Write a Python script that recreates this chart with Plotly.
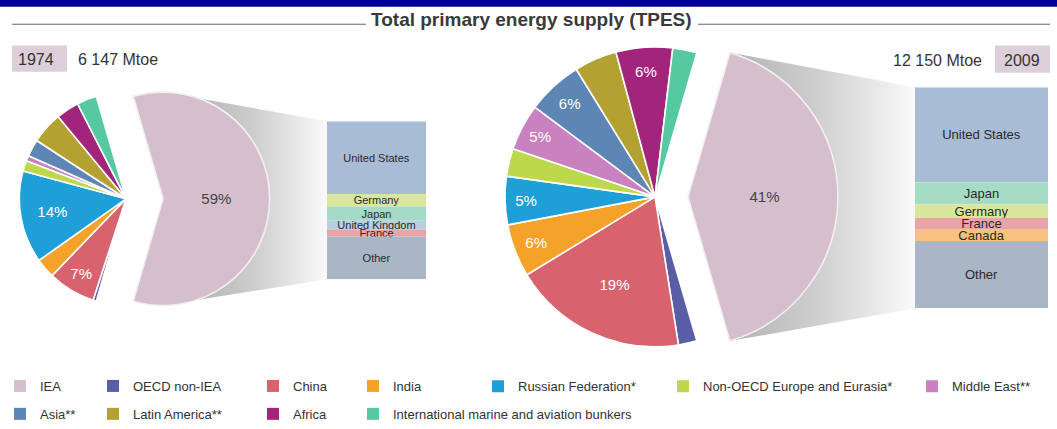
import math
import plotly.graph_objects as go

# ---------------- data ----------------
REGIONS = [
    "IEA", "OECD non-IEA", "China", "India", "Russian Federation*",
    "Non-OECD Europe and Eurasia*", "Middle East**", "Asia**",
    "Latin America**", "Africa", "International marine and aviation bunkers",
]
REGION_COLORS = [
    "#d5bfcc", "#5a5ea6", "#d9626f", "#f5a22b", "#1f9fd8",
    "#bdd84b", "#c981c0", "#5d86b4", "#b3a132", "#a3247b", "#57c9a1",
]

YEARS = ["1974", "2009"]
TOTAL_MTOE = [6147, 12150]

# regional shares of world TPES (%)
SHARES_1974 = [59.0, 0.5, 7.2, 3.0, 14.0, 1.6, 0.8, 2.6, 4.8, 3.5, 3.0]
SHARES_2009 = [41.0, 2.0, 18.8, 5.7, 5.2, 3.0, 5.0, 6.0, 4.6, 6.1, 2.6]

# breakdown of the IEA total (% of IEA TPES)
IEA_1974_NAMES = ["United States", "Germany", "Japan", "United Kingdom", "France", "Other"]
IEA_1974_SHARES = [46.0, 8.0, 9.0, 5.5, 4.5, 27.0]
IEA_1974_COLORS = ["#a9bcd5", "#d9e69b", "#a6dac8", "#b7cfe0", "#e9a4a8", "#a8b6c5"]

IEA_2009_NAMES = ["United States", "Japan", "Germany", "France", "Canada", "Other"]
IEA_2009_SHARES = [43.0, 10.0, 6.0, 5.5, 5.0, 30.5]
IEA_2009_COLORS = ["#a9bcd5", "#a6dcc5", "#d9e69b", "#e9a4a8", "#f6c27e", "#a8b6c5"]

# ---------------- layout constants (pixels) ----------------
W, H = 1057, 429
FONT_NARROW = "Liberation Sans Narrow, Arial Narrow, Liberation Sans, sans-serif"
FONT_REG = "Liberation Sans, Arial, sans-serif"
CLEAR = "rgba(0,0,0,0)"
TEXT = "#333333"

R_1974 = 110  # pie radius of the first year; later year scaled by area
PANELS = [
    dict(shares=SHARES_1974, cx=126, cy=205, pull=37, box=(327, 125, 426, 288),
         names=IEA_1974_NAMES, sub=IEA_1974_SHARES, colors=IEA_1974_COLORS, bar_font=11),
    dict(shares=SHARES_2009, cx=655, cy=203, pull=33, box=(915, 90, 1048, 318),
         names=IEA_2009_NAMES, sub=IEA_2009_SHARES, colors=IEA_2009_COLORS, bar_font=13),
]
LEGEND_COL_X = [0, 93, 253, 353, 478, 663, 912]


def fy(py):
    return 1 - py / H


fig = go.Figure()

for k, p in enumerate(PANELS):
    shares = p["shares"]
    n = len(shares)
    total = sum(shares)
    r = R_1974 * math.sqrt(TOTAL_MTOE[k] / TOTAL_MTOE[0])
    cx, cy, pull = p["cx"], p["cy"], p["pull"]
    tip_x = cx + pull
    bx0, by0, bx1, by1 = p["box"]

    # grey fan joining the IEA slice to its country breakdown
    half = math.radians(min(90.0, 180.0 * shares[0] / total))
    ex = tip_x + r * math.cos(half)
    fig.add_trace(go.Scatter(
        x=[tip_x, ex, bx0, bx0, ex, tip_x],
        y=[cy, cy - r * math.sin(half), by0, by1, cy + r * math.sin(half), cy],
        mode="lines", line=dict(width=0), fill="toself",
        fillgradient=dict(type="horizontal", start=tip_x, stop=bx0,
                          colorscale=[[0, "#a6a6a6"], [0.55, "#cdcdcd"], [1, "#fafafa"]]),
        hoverinfo="skip", showlegend=False, xaxis="x", yaxis="y"))

    rot = 90 - 180.0 * shares[0] / total
    labels = [f"{v:.0f}%" if v >= 5 else "" for v in shares]
    common = dict(labels=REGIONS, values=shares, sort=False, direction="clockwise",
                  rotation=rot, textinfo="text", textposition="inside",
                  insidetextorientation="horizontal", showlegend=False,
                  hoverinfo="label+value")

    # regional slices around the common centre
    fig.add_trace(go.Pie(
        **common,
        text=[""] + labels[1:],
        textfont=dict(family=FONT_NARROW, size=15, color=["#444444"] + ["white"] * (n - 1)),
        marker=dict(colors=[CLEAR] + REGION_COLORS[1:],
                    line=dict(color="white", width=[0] + [1.6] * (n - 1))),
        domain=dict(x=[(cx - r) / W, (cx + r) / W], y=[fy(cy + r), fy(cy - r)])))

    # IEA slice, pulled out towards the breakdown
    fig.add_trace(go.Pie(
        **common,
        text=[labels[0]] + [""] * (n - 1),
        textfont=dict(family=FONT_NARROW, size=15, color=["#444444"] + ["white"] * (n - 1)),
        marker=dict(colors=[REGION_COLORS[0]] + [CLEAR] * (n - 1),
                    line=dict(color="#f4eef2", width=[1.6] + [0] * (n - 1))),
        domain=dict(x=[(tip_x - r) / W, (tip_x + r) / W], y=[fy(cy + r), fy(cy - r)])))

    # stacked country breakdown of the IEA total
    sub = p["sub"]
    bases = [sum(sub[:i]) for i in range(len(sub))]
    ax = k + 2
    fig.add_trace(go.Bar(
        x=[0] * len(sub), y=sub, base=bases, width=1,
        marker=dict(color=p["colors"], line=dict(width=0)),
        text=p["names"], textposition="inside", insidetextanchor="middle",
        textangle=0, constraintext="none", cliponaxis=False,
        textfont=dict(family=FONT_NARROW, size=p["bar_font"], color="#2a2a2a"),
        hoverinfo="skip", showlegend=False, xaxis=f"x{ax}", yaxis=f"y{ax}"))
    fig.layout[f"xaxis{ax}"] = dict(domain=[bx0 / W, bx1 / W], range=[-0.5, 0.5],
                                    visible=False, fixedrange=True, anchor=f"y{ax}")
    fig.layout[f"yaxis{ax}"] = dict(domain=[fy(by1), fy(by0)], range=[sum(sub), 0],
                                    visible=False, fixedrange=True, anchor=f"x{ax}")

# legend entries, laid out as columns of a two-row grid
for i, name in enumerate(REGIONS):
    col = i % len(LEGEND_COL_X)
    lid = "legend" if col == 0 else f"legend{col + 1}"
    fig.add_trace(go.Scatter(
        x=[None], y=[None], mode="markers", name=name,
        marker=dict(symbol="square", size=12, color=REGION_COLORS[i], line=dict(width=0)),
        legend=lid, legendgroup=name, showlegend=True, hoverinfo="skip",
        xaxis="x", yaxis="y"))

legends = {}
for col, lx in enumerate(LEGEND_COL_X):
    key = "legend" if col == 0 else f"legend{col + 1}"
    legends[key] = dict(x=lx / W, xanchor="left", y=fy(383), yanchor="top",
                        orientation="v", bgcolor=CLEAR, borderwidth=0,
                        font=dict(family=FONT_NARROW, size=13, color=TEXT),
                        tracegroupgap=8, itemclick=False, itemdoubleclick=False)


def mtoe(v):
    return f"{v:,}".replace(",", " ") + " Mtoe"


shapes = [
    dict(type="rect", xref="paper", yref="paper", x0=0, x1=1, y0=fy(7), y1=1,
         fillcolor="#000099", line=dict(width=0), layer="above"),
    dict(type="line", xref="x", yref="y", x0=12, x1=366, y0=25, y1=25,
         line=dict(color="#666666", width=1)),
    dict(type="line", xref="x", yref="y", x0=698, x1=1050, y0=25, y1=25,
         line=dict(color="#666666", width=1)),
    dict(type="rect", xref="x", yref="y", x0=12, x1=67, y0=47, y1=74,
         fillcolor="#dccfd9", line=dict(width=0), layer="below"),
    dict(type="rect", xref="x", yref="y", x0=995, x1=1050, y0=47, y1=75,
         fillcolor="#dccfd9", line=dict(width=0), layer="below"),
]

annotations = [
    dict(text="Total primary energy supply (TPES)", x=531, y=20, xref="x", yref="y",
         showarrow=False, font=dict(family=FONT_REG, size=19, color="#3a3a3a", weight="bold")),
    dict(text=YEARS[0], x=36, y=61, xref="x", yref="y", showarrow=False,
         font=dict(family=FONT_REG, size=16, color=TEXT)),
    dict(text=mtoe(TOTAL_MTOE[0]), x=76, y=61, xref="x", yref="y", xanchor="left",
         showarrow=False, font=dict(family=FONT_REG, size=16, color=TEXT)),
    dict(text=mtoe(TOTAL_MTOE[1]), x=984, y=62, xref="x", yref="y", xanchor="right",
         showarrow=False, font=dict(family=FONT_REG, size=16, color=TEXT)),
    dict(text=YEARS[1], x=1022, y=62, xref="x", yref="y", showarrow=False,
         font=dict(family=FONT_REG, size=16, color=TEXT)),
]

fig.update_layout(
    width=W, height=H, margin=dict(l=0, r=0, t=0, b=0),
    paper_bgcolor="white", plot_bgcolor="white", barmode="overlay",
    xaxis=dict(domain=[0, 1], range=[0, W], visible=False, fixedrange=True),
    yaxis=dict(domain=[0, 1], range=[H, 0], visible=False, fixedrange=True),
    shapes=shapes, annotations=annotations,
    **legends,
)

fig.write_html("out.html")
